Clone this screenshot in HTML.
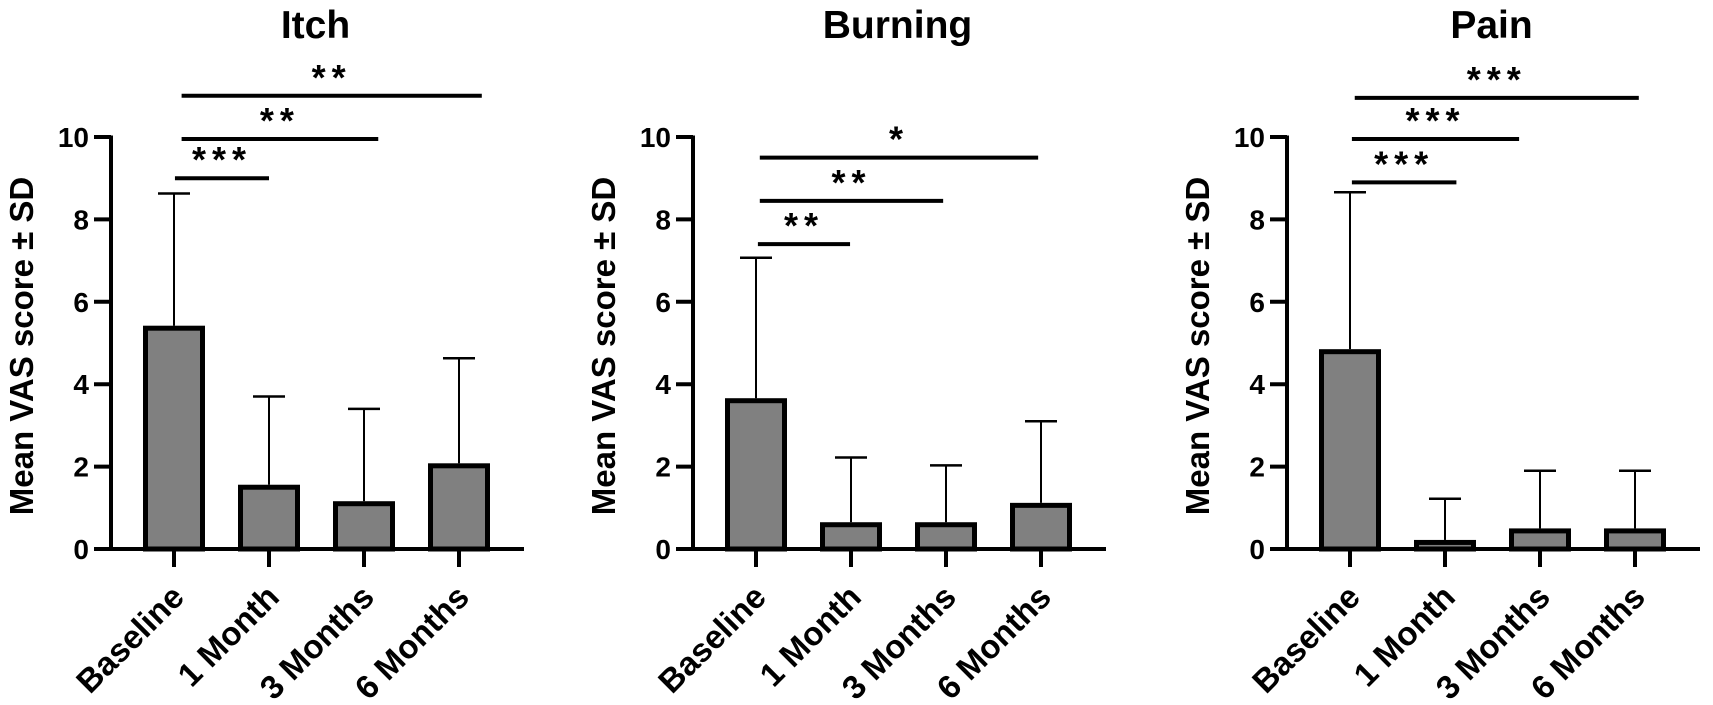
<!DOCTYPE html>
<html><head><meta charset="utf-8"><style>
html,body{margin:0;padding:0;background:#fff;}
svg{display:block;font-family:"Liberation Sans",Arial,sans-serif;font-weight:bold;}
</style></head><body>
<svg id="fig" width="1713" height="705" viewBox="0 0 1713 705"></svg>
<script>
const categories = ["Baseline", "1 Month", "3 Months", "6 Months"];
const panelTitles = ["Itch", "Burning", "Pain"];
const itchMeans = [5.42, 1.56, 1.16, 2.08];
const itchSD = [3.21, 2.14, 2.24, 2.55];
const burningMeans = [3.66, 0.65, 0.65, 1.12];
const burningSD = [3.41, 1.57, 1.38, 1.98];
const painMeans = [4.85, 0.22, 0.5, 0.5];
const painSD = [3.81, 1.0, 1.4, 1.4];
const yTicks = [0, 2, 4, 6, 8, 10];
// significance brackets: [fromCat, toCat, yValue, label]
const itchSig = [[0, 1, 9.0, "***"], [0, 2, 9.95, "**"], [0, 3, 11.0, "**"]];
const burningSig = [[0, 1, 7.4, "**"], [0, 2, 8.45, "**"], [0, 3, 9.5, "*"]];
const painSig = [[0, 1, 8.9, "***"], [0, 2, 9.95, "***"], [0, 3, 10.95, "***"]];

const NS = "http://www.w3.org/2000/svg";
const svg = document.getElementById("fig");
function mk(tag, attrs, parent) {
  const e = document.createElementNS(NS, tag);
  for (const k in attrs) e.setAttribute(k, attrs[k]);
  (parent || svg).appendChild(e);
  return e;
}
const panels = [
  {axisX: 111, title: panelTitles[0], means: itchMeans, sd: itchSD, sig: itchSig, starts: [0.01, 0.08, 0.08], ends: [1.0, 2.15, 3.24]},
  {axisX: 693, title: panelTitles[1], means: burningMeans, sd: burningSD, sig: burningSig, starts: [0.02, 0.04, 0.04], ends: [0.99, 1.97, 2.97]},
  {axisX: 1287, title: panelTitles[2], means: painMeans, sd: painSD, sig: painSig, starts: [0.02, 0.02, 0.05], ends: [1.12, 1.78, 3.04]}
];
const Y0 = 549, PER = 41.2;
function yScale(v) { return Y0 - v * PER; }

panels.forEach((p, pi) => {
  const g = mk("g", {});
  
  
  const xScale = i => p.axisX + 63 + i * 95;
  const xEnd = xScale(3) + 65;

  const t = mk("text", {x: xScale(1.5) - 1, y: 38, "text-anchor": "middle", "font-size": 39}, g);
  t.textContent = p.title;
  
  

  const yt = mk("text", {x: 0, y: 0, "text-anchor": "middle", "font-size": 33, transform: `translate(${p.axisX - 78},346) rotate(-90)`}, g);
  yt.textContent = "Mean VAS score ± SD";
  
  

  p.means.forEach((m, i) => {
    const cx = xScale(i);
    const top = yScale(m);
    const bh = Y0 - top;
    const eb = mk("line", {x1: cx, x2: cx, y1: top, y2: yScale(m + p.sd[i]), stroke: "#000", "stroke-width": 2}, g);
    
    
    const cap = mk("line", {x1: cx - 16, x2: cx + 16, y1: yScale(m + p.sd[i]), y2: yScale(m + p.sd[i]), stroke: "#000", "stroke-width": 2.5}, g);
    
    
    const r = mk("rect", {x: cx - 28.5, y: top + 2.5, width: 57, height: Math.max(bh - 2.5, 0), fill: "#808080", stroke: "#000", "stroke-width": 5}, g);
    
    
  });

  const ya = mk("line", {x1: p.axisX, x2: p.axisX, y1: yScale(10) - 1.5, y2: Y0 + 2, stroke: "#000", "stroke-width": 4}, g);
  
  
  const xa = mk("line", {x1: p.axisX - 17, x2: xEnd, y1: Y0, y2: Y0, stroke: "#000", "stroke-width": 4}, g);
  
  

  yTicks.forEach(v => {
    const y = yScale(v);
    const tk = mk("line", {x1: p.axisX - 17, x2: p.axisX, y1: y, y2: y, stroke: "#000", "stroke-width": 4}, g);
    
    
    const tl = mk("text", {x: p.axisX - 22, y: y + 10, "text-anchor": "end", "font-size": 28}, g);
    tl.textContent = v;
    
    
  });

  categories.forEach((c, i) => {
    const cx = xScale(i);
    const tk = mk("line", {x1: cx, x2: cx, y1: Y0, y2: Y0 + 18, stroke: "#000", "stroke-width": 4}, g);
    
    
    const tl = mk("text", {x: 0, y: 0, "text-anchor": "end", "font-size": 33, transform: `translate(${cx + 12},${Y0 + 50}) rotate(-45)`}, g);
    tl.textContent = c;
    
    
  });

  p.sig.forEach((s, k) => {
    const x1 = xScale(s[0] + p.starts[k]);
    const x2 = xScale(s[1]) + (p.ends[k] - s[1]) * 95;
    const y = yScale(s[2]);
    const ln = mk("line", {x1: x1, x2: x2, y1: y, y2: y, stroke: "#000", "stroke-width": 4}, g);
    
    
    const st = mk("text", {x: (x1 + x2) / 2, y: y - 6, "text-anchor": "middle", "font-size": 36, "letter-spacing": 6}, g);
    st.textContent = s[3];
    
    
  });
});
</script>
</body></html>
